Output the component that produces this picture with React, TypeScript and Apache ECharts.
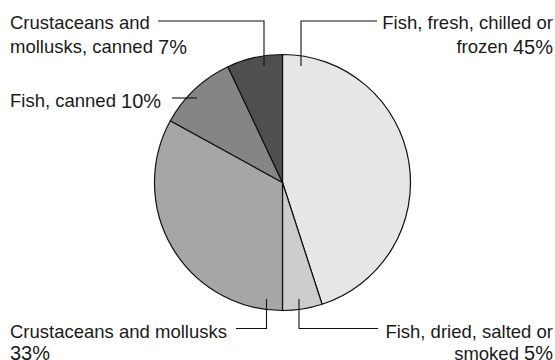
import React, { useEffect, useRef } from "react";
import * as echarts from "echarts";

const categories = [
  "Fish, fresh, chilled or frozen",
  "Fish, dried, salted or smoked",
  "Crustaceans and mollusks",
  "Fish, canned",
  "Crustaceans and mollusks, canned",
];
const shares = [45, 5, 33, 10, 7];
const sliceColors = ["#e6e6e6", "#cdcdcd", "#a6a6a6", "#858585", "#4f4f4f"];
// label text lines (the last line is followed by the percentage)
const labelText = [
  ["Fish, fresh, chilled or", "frozen "],
  ["Fish, dried, salted or", "smoked "],
  ["Crustaceans and mollusks", ""],
  ["Fish, canned "],
  ["Crustaceans and", "mollusks, canned "],
];

const FONT = "'Liberation Sans', Arial, Helvetica, sans-serif";

// annotation layout: text anchor and leader polyline
const labelLayout = [
  { x: 553, y: 34.5, lh: 24, align: "right", leader: [[377, 21], [301, 21], [301, 66]] },
  { x: 553, y: 342, lh: 22, align: "right", leader: [[378, 328.5], [299, 328.5], [299, 299]] },
  { x: 10, y: 342, lh: 22, align: "left", leader: [[236, 328.5], [266.5, 328.5], [266.5, 299]] },
  { x: 10, y: 100.5, lh: 24, align: "left", leader: [[172, 98], [197, 98]] },
  { x: 10, y: 34.5, lh: 24, align: "left", leader: [[158, 21], [264, 21], [264, 66]] },
];

function buildLabel(i: number): string {
  const lines = labelText[i];
  const parts: string[] = [];
  lines.forEach((ln, k) => {
    const isLast = k === lines.length - 1;
    let s = ln ? `{t|${ln}}` : "";
    if (isLast) s += `{n|${shares[i]}%}`;
    parts.push(s);
  });
  return parts.join("\n");
}

export default function App() {
  const ref = useRef<HTMLDivElement>(null);
  useEffect(() => {
    if (!ref.current) return;
    const chart = echarts.init(ref.current, null, { renderer: "svg" });
    const graphics: any[] = [];
    labelLayout.forEach((l, i) => {
      graphics.push({
        type: "polyline",
        silent: true,
        z: 10,
        shape: { points: l.leader },
        style: { stroke: "#111", lineWidth: 1.1, fill: null },
      });
      graphics.push({
        type: "text",
        silent: true,
        z: 10,
        x: l.x,
        y: l.y,
        style: {
          text: buildLabel(i),
          align: l.align,
          verticalAlign: "middle",
          fill: "#1a1a1a",
          rich: {
            t: { fontSize: 18.5, fontFamily: FONT, lineHeight: l.lh, fill: "#1a1a1a" },
            n: { fontSize: 20, fontFamily: FONT, lineHeight: l.lh, fill: "#1a1a1a" },
          },
        },
      });
    });
    chart.setOption({
      animation: false,
      backgroundColor: "#ffffff",
      graphic: graphics,
      series: [
        {
          type: "pie",
          center: [282.5, 182.5],
          radius: 128,
          startAngle: 90,
          clockwise: true,
          label: { show: false },
          labelLine: { show: false },
          emphasis: { disabled: true },
          itemStyle: { borderColor: "#111", borderWidth: 1.2 },
          data: categories.map((c, i) => ({
            name: c,
            value: shares[i],
            itemStyle: { color: sliceColors[i] },
          })),
        },
      ],
    });
    return () => chart.dispose();
  }, []);
  return (
    <div
      ref={ref}
      style={{ position: "absolute", left: 0, top: 0, width: 555, height: 360 }}
    />
  );
}
